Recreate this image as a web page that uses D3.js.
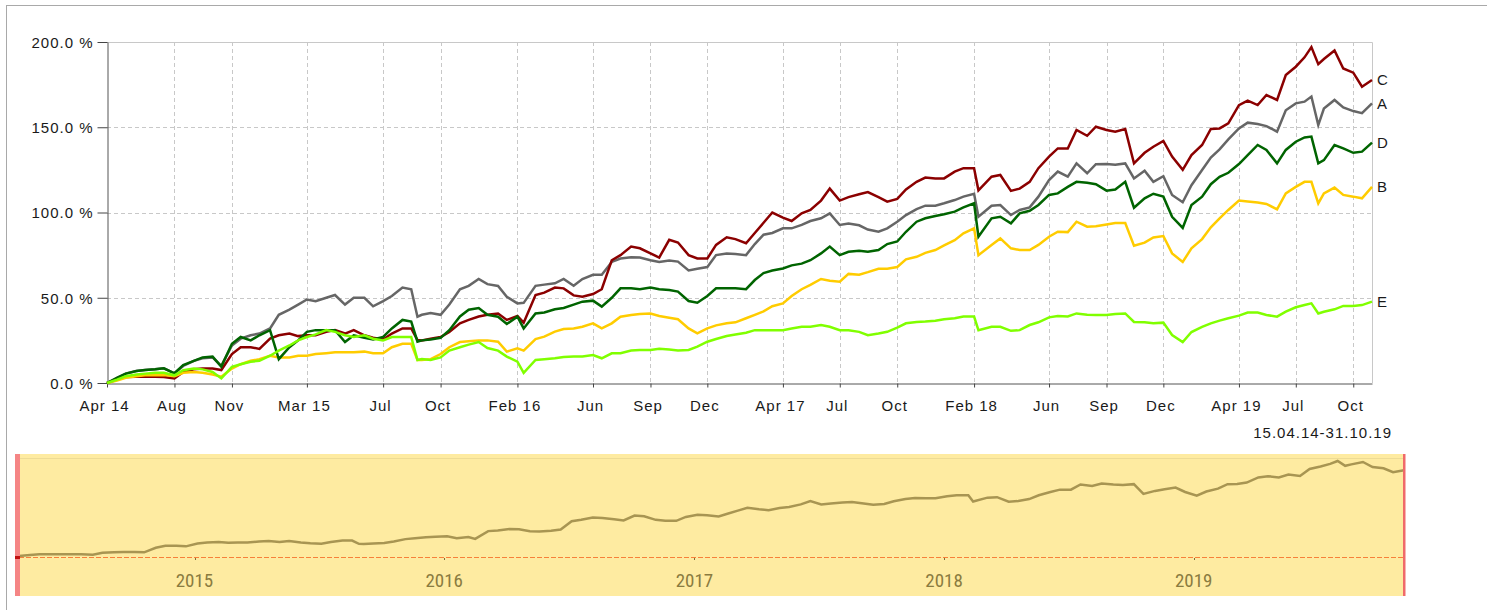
<!DOCTYPE html>
<html>
<head>
<meta charset="utf-8">
<script src="https://cdn.jsdelivr.net/npm/d3@7"></script>
<style>
  html, body { margin: 0; padding: 0; background: #fff; }
  svg { display: block; }
  text { font-family: "Liberation Sans", Arial, sans-serif; }
</style>
</head>
<body>
<svg id="chart" width="1487" height="610"></svg>
<script>
// ---- data (performance in %) ----
const dates = [
  "2014-04-15","2014-05-01","2014-05-15","2014-06-01","2014-06-15","2014-07-01","2014-07-15","2014-08-01","2014-08-15","2014-09-01","2014-09-15","2014-10-01","2014-10-15","2014-11-01","2014-11-15","2014-12-01","2014-12-15",
  "2015-01-01","2015-01-15","2015-02-01","2015-02-15","2015-03-01","2015-03-15","2015-04-01","2015-04-15","2015-05-01","2015-05-15","2015-06-01","2015-06-15","2015-07-01","2015-07-15","2015-08-01","2015-08-15","2015-08-25","2015-09-01","2015-09-15","2015-10-01","2015-10-15","2015-11-01","2015-11-15","2015-12-01","2015-12-15",
  "2016-01-01","2016-01-15","2016-02-01","2016-02-11","2016-03-01","2016-03-15","2016-04-01","2016-04-15","2016-05-01","2016-05-15","2016-06-01","2016-06-15","2016-07-01","2016-07-15","2016-08-01","2016-08-15","2016-09-01","2016-09-15","2016-10-01","2016-10-15","2016-11-01","2016-11-15","2016-12-01","2016-12-15",
  "2017-01-01","2017-01-15","2017-02-01","2017-02-15","2017-03-01","2017-03-15","2017-04-01","2017-04-15","2017-05-01","2017-05-15","2017-06-01","2017-06-15","2017-07-01","2017-07-15","2017-08-01","2017-08-15","2017-09-01","2017-09-15","2017-10-01","2017-10-15","2017-11-01","2017-11-15","2017-12-01","2017-12-15",
  "2018-01-01","2018-01-15","2018-02-01","2018-02-08","2018-03-01","2018-03-15","2018-04-01","2018-04-15","2018-05-01","2018-05-15","2018-06-01","2018-06-15","2018-07-01","2018-07-15","2018-08-01","2018-08-15","2018-09-01","2018-09-15","2018-10-01","2018-10-15","2018-11-01","2018-11-15","2018-12-01","2018-12-15",
  "2019-01-01","2019-01-15","2019-02-01","2019-02-15","2019-03-01","2019-03-15","2019-04-01","2019-04-15","2019-05-01","2019-05-15","2019-06-01","2019-06-15","2019-07-01","2019-07-15","2019-07-26","2019-08-06","2019-08-15","2019-09-01","2019-09-15","2019-10-01","2019-10-15","2019-10-31"
];

const seriesA = [
  0, 3, 5.5, 7, 7.6, 8, 8.6, 5.7, 10, 13, 14.5, 15, 10, 22, 26, 28, 29,
  32, 40, 43, 46, 49, 48, 50, 51.6, 46, 50, 50, 45, 48, 51, 56, 55, 38.9, 40, 41, 40, 46, 55, 57, 61, 58,
  56.9, 50.6, 46.7, 47, 57, 57.7, 58.5, 61, 57, 61, 63.5, 63.5, 71, 73, 73.8, 73.6, 72, 71, 71.8, 71.2, 66, 67, 68, 75,
  76, 75.6, 75, 81.5, 87, 88, 90.7, 90.7, 92.7, 95, 96.6, 99.5, 92.7, 93.6, 92.5, 90, 88.7, 90.7, 94.6, 98.5, 102, 104, 104, 105.4,
  107.3, 109.3, 111, 97.5, 104, 104.4, 98.5, 101.5, 103, 109.3, 119, 124, 121, 128.8, 123, 128.3, 128.5, 128, 128.8, 120, 124.5, 118, 121.3, 110.3,
  106, 116, 124.9, 132.2, 137, 142.9, 149.3, 152.7, 151.9, 150.7, 147.4, 160, 164, 165, 168, 151.3, 161, 166, 161.6, 159.5, 158.3, 164
];
const seriesB = [
  0, 1.5, 3, 4, 4.5, 4.5, 4.7, 4, 6, 6.5, 6, 5, 3.7, 8.5, 11, 13, 14,
  16, 15, 15, 16, 16, 17, 17.5, 18, 18, 18, 18.4, 17.5, 17.4, 21, 23, 23, 13.5, 13.5, 14, 17, 21, 24, 24.5, 25, 25,
  24.2, 18.4, 20.3, 19, 25.8, 27.2, 30.1, 31.7, 32, 33, 35, 32, 35, 38.9, 39.9, 40.4, 40.8, 39.3, 38.3, 37.4, 32, 29.1, 32, 33.8,
  35, 35.6, 38, 40, 42, 45, 46.7, 51, 55, 57.5, 61, 60, 59.4, 64, 63.5, 65, 67, 67, 68, 72.5, 74, 76.3, 78, 80.7,
  83.8, 87.8, 90.7, 75, 81, 84.8, 79, 78, 78, 81, 85.8, 88.7, 88.5, 94.6, 91.7, 92, 93, 93.8, 93.8, 80.5, 82.3, 85.4, 86.2, 76,
  71, 79, 84.4, 91.3, 96.6, 101.5, 107, 106.4, 105.8, 105, 101.9, 111.2, 115, 118, 118, 105.4, 111.2, 114.6, 110.3, 109.3, 108.3, 115
];
const seriesC = [
  0, 2, 3.5, 3.7, 3.7, 3.7, 3.5, 2.7, 6.5, 8, 8.5, 8.5, 7.6, 17, 21, 21, 20,
  26, 28, 29, 27.5, 28, 28, 30, 31, 29, 31, 28, 26.5, 25.5, 29, 32, 32, 25.2, 25, 26, 27, 30, 35, 37, 39, 40,
  40.8, 37, 39.3, 35.4, 51.6, 53, 56, 55.5, 51.4, 50.6, 52.2, 55, 72, 75, 80, 79, 76, 73.6, 84, 82.4, 75, 73, 73, 81,
  85.5, 84.4, 82, 88, 94, 100, 97, 95, 99.5, 101.5, 107, 114, 107, 109, 110.7, 112, 109, 106.4, 108, 113.5, 118, 120.5, 120, 120,
  124, 126, 126, 113, 121, 122, 112.7, 114, 118, 126, 132.8, 137.6, 137.5, 148.4, 145, 150.3, 148.4, 147.4, 149, 128.8, 135, 138.6, 142, 132.8,
  125, 133.7, 139.6, 149, 149.3, 152.3, 163, 165.6, 163, 168.9, 166, 180.6, 185.5, 191, 197, 187, 190, 195, 184.5, 182, 173.8, 177.7
];
const seriesD = [
  0, 3, 5.5, 7, 7.6, 8, 8.6, 5.7, 10.5, 13, 15, 15.5, 9.6, 23, 27, 25, 28,
  31, 14, 21, 25, 30, 31, 31, 31, 24, 28, 26.5, 25.5, 27, 32, 37, 36, 24.2, 25, 25.5, 26.5, 31, 39, 43, 44, 40,
  38.9, 34.6, 38.9, 32, 40.8, 41.4, 43.2, 44, 46, 47.7, 48.3, 44.8, 50, 55.5, 55.5, 55, 56, 55, 54.5, 53.6, 48.1, 47.1, 51, 55.5,
  55.5, 55.5, 55, 60.4, 64.5, 66, 67.2, 69, 70, 72, 76, 80, 75, 77, 77.5, 77, 78, 81.5, 83, 88.7, 94.6, 96.6, 98, 99,
  100.5, 103, 105.4, 85.8, 96.6, 97.5, 93.6, 99.5, 101, 104.4, 110.3, 111.2, 115, 118, 117.5, 116.6, 112.8, 113.5, 118, 102.8, 108.3, 111, 109.3, 97.5,
  91, 104.4, 109.3, 116.6, 120.9, 123.3, 128.4, 133.7, 139.6, 136.7, 128.8, 136.7, 141.5, 144, 144.5, 128.8, 130.7, 139.6, 137.6, 135, 135.7, 141
];
const seriesE = [
  0, 2, 4, 5, 5.5, 6, 6, 4.5, 7.5, 8.5, 8, 6.5, 2.7, 9.5, 11, 12.5, 13,
  16, 19, 22, 25, 27, 28.5, 31, 30, 28, 27, 28, 26, 25, 27, 27, 27, 13.5, 14, 13.5, 15, 19, 21, 22.5, 24, 20.5,
  19, 15.5, 12.5, 6, 13.5, 13.9, 14.5, 15.3, 15.5, 15.5, 16.4, 14.5, 17.4, 17.4, 19, 19.4, 19.4, 20.1, 19.6, 19, 19.4, 21.3, 24.2, 25.8,
  27.6, 28.5, 29.5, 31, 31, 31, 31, 32, 33, 33, 34, 33, 31, 31, 30, 28, 29, 30, 32.5, 35, 35.8, 36, 36.5, 37.4,
  38, 39, 39, 31, 33, 33, 30.6, 31, 34, 35.6, 38.5, 39.3, 39, 40.8, 40, 39.9, 39.9, 40.4, 40.8, 35.8, 35.6, 35, 35.4, 28.1,
  24, 29.9, 32.9, 35, 36.6, 38, 39.5, 41.3, 41.3, 39.9, 38.9, 41.8, 44.4, 45.7, 46.7, 40.8, 41.8, 43.2, 45.2, 45.2, 45.7, 47.7
];

const seriesNames  = ["A", "C", "B", "D", "E"];          // drawing order
const seriesColors = { A: "#666666", B: "#ffcc00", C: "#8b0000", D: "#006400", E: "#80ff00" };
const seriesValues = { A: seriesA, B: seriesB, C: seriesC, D: seriesD, E: seriesE };

const yTicks = [0, 50, 100, 150, 200];
const xTickDates  = ["2014-04-15","2014-08-01","2014-11-01","2015-03-01","2015-07-01","2015-10-01","2016-02-01","2016-06-01","2016-09-01","2016-12-01","2017-04-01","2017-07-01","2017-10-01","2018-02-01","2018-06-01","2018-09-01","2018-12-01","2019-04-01","2019-07-01","2019-10-01"];
const xTickLabels = ["Apr 14","Aug","Nov","Mar 15","Jul","Oct","Feb 16","Jun","Sep","Dec","Apr 17","Jul","Oct","Feb 18","Jun","Sep","Dec","Apr 19","Jul","Oct"];
const rangeLabel = "15.04.14-31.10.19";
const navYears = ["2015","2016","2017","2018","2019"];

// ---- setup ----
const parse = d3.timeParse("%Y-%m-%d");
const T = dates.map(parse);
const svg = d3.select("#chart");
const plot = { left: 107, right: 1372, top: 42, bottom: 383 };

const x = d3.scaleTime().domain(d3.extent(T)).range([plot.left, plot.right]);
const y = d3.scaleLinear().domain([0, 200]).range([plot.bottom, plot.top]);

// outer frame
svg.append("rect")
  .attr("x", 6.5).attr("y", 5.5).attr("width", 1600).attr("height", 800)
  .attr("fill", "none").attr("stroke", "#a9a9a9");

/* grid */
const grid = svg.append("g").attr("class", "grid");
grid.selectAll("line.gy").data(yTicks.filter(v => v > 0 && v < 200)).join("line")
  .attr("class", "gy")
  .attr("x1", plot.left).attr("x2", plot.right)
  .attr("y1", d => Math.round(y(d)) + 0.5).attr("y2", d => Math.round(y(d)) + 0.5)
  .attr("stroke", "#c8c8c8").attr("stroke-dasharray", "4,3");
grid.selectAll("line.gx").data(xTickDates.slice(1).map(parse)).join("line")
  .attr("class", "gx")
  .attr("x1", d => Math.round(x(d)) + 0.5).attr("x2", d => Math.round(x(d)) + 0.5)
  .attr("y1", plot.top).attr("y2", plot.bottom)
  .attr("stroke", "#c8c8c8").attr("stroke-dasharray", "4,3");
// top + right border
grid.append("path")
  .attr("d", `M${plot.left},${plot.top + 0.5}H${plot.right + 0.5}V${plot.bottom}`)
  .attr("fill", "none").attr("stroke", "#c8c8c8");

/* axes */
const yAxis = svg.append("g")
  .attr("transform", `translate(${plot.left + 0.5},0)`)
  .call(d3.axisLeft(y).tickValues(yTicks).tickFormat(d => d3.format(".1f")(d) + " %")
    .tickSize(10).tickSizeOuter(0).tickPadding(4));
const xAxis = svg.append("g")
  .attr("transform", `translate(0,${plot.bottom + 0.5})`)
  .call(d3.axisBottom(x).tickValues(xTickDates.map(parse)).tickFormat((d, i) => xTickLabels[i])
    .tickSize(4).tickSizeOuter(0).tickPadding(13));
[yAxis, xAxis].forEach(g => {
  g.select(".domain").attr("stroke", "#555");
  g.selectAll(".tick line").attr("stroke", "#444");
  g.selectAll("text")
    .attr("fill", "#1a1a1a")
    .style("font-family", '"Liberation Sans", Arial, sans-serif')
    .style("font-size", "15px")
    .style("letter-spacing", "1px");
});
yAxis.selectAll("text").attr("dy", "0.36em");
xAxis.selectAll("text").attr("dx", "-3");

svg.append("text")
  .attr("x", 1392).attr("y", 438)
  .attr("text-anchor", "end")
  .attr("fill", "#1a1a1a")
  .style("font-size", "15px").style("letter-spacing", "1px")
  .text(rangeLabel);

/* lines */
const line = d3.line().x((d, i) => x(T[i])).y(d => y(d));
const lines = svg.append("g").attr("class", "lines");
lines.selectAll("path").data(seriesNames).join("path")
  .attr("d", k => line(seriesValues[k]))
  .attr("fill", "none")
  .attr("stroke", k => seriesColors[k])
  .attr("stroke-width", 2.5);

// end labels
svg.append("g").selectAll("text").data(seriesNames).join("text")
  .attr("x", plot.right + 5)
  .attr("y", k => y(seriesValues[k][seriesValues[k].length - 1]))
  .attr("dy", "0.36em")
  .attr("fill", "#1a1a1a")
  .style("font-size", "15px")
  .text(k => k);

/* navigator */
const nav = { left: 15, right: 1405, top: 454, bottom: 596, x0: 19, x1: 1404, base: 557, peak: 461 };
const nx = d3.scaleTime().domain(d3.extent(T)).range([nav.x0, nav.x1]);
const ny = d3.scaleLinear().domain([0, d3.max(seriesC)]).range([nav.base - 1, nav.peak]);
const ng = svg.append("g").attr("class", "navigator");

ng.append("rect")
  .attr("x", nav.left).attr("y", nav.top)
  .attr("width", nav.right - nav.left).attr("height", nav.bottom - nav.top)
  .attr("fill", "#feeba1");
ng.append("line")
  .attr("x1", nav.left).attr("x2", nav.right)
  .attr("y1", nav.top + 4.5).attr("y2", nav.top + 4.5)
  .attr("stroke", "#eddb95");
ng.append("line")
  .attr("x1", nav.x0).attr("x2", nav.x1)
  .attr("y1", nav.base + 0.5).attr("y2", nav.base + 0.5)
  .attr("stroke", "#f7803a").attr("stroke-dasharray", "5,2");
ng.selectAll("line.nt").data(navYears.map(yr => parse(yr + "-01-01"))).join("line")
  .attr("class", "nt")
  .attr("x1", d => Math.round(nx(d)) - 2.5).attr("x2", d => Math.round(nx(d)) - 2.5)
  .attr("y1", nav.base + 1).attr("y2", nav.base + 3)
  .attr("stroke", "#7a6d3a");
ng.append("path")
  .attr("d", d3.line().x((d, i) => nx(T[i])).y(d => ny(d))(seriesC))
  .attr("fill", "none")
  .attr("stroke", "#a89552")
  .attr("stroke-width", 2.5);
ng.selectAll("text").data(navYears).join("text")
  .attr("x", yr => nx(parse(yr + "-01-01")) - 3)
  .attr("y", 587)
  .attr("text-anchor", "middle")
  .attr("fill", "#8a7b40")
  .style("font-family", '"Liberation Sans Narrow", "Roboto Condensed", "DejaVu Sans Condensed", sans-serif')
  .style("font-size", "19px")
  .text(yr => yr);
// handles
ng.append("rect")
  .attr("x", nav.left).attr("y", nav.top)
  .attr("width", 5).attr("height", nav.bottom - nav.top)
  .attr("fill", "#f58585");
ng.append("rect")
  .attr("x", nav.left).attr("y", nav.base - 1)
  .attr("width", 5).attr("height", 3)
  .attr("fill", "#c01010");
ng.append("rect")
  .attr("x", nav.x1 - 1).attr("y", nav.top)
  .attr("width", 2.5).attr("height", nav.bottom - nav.top)
  .attr("fill", "#f06a6a");
</script>
</body>
</html>
